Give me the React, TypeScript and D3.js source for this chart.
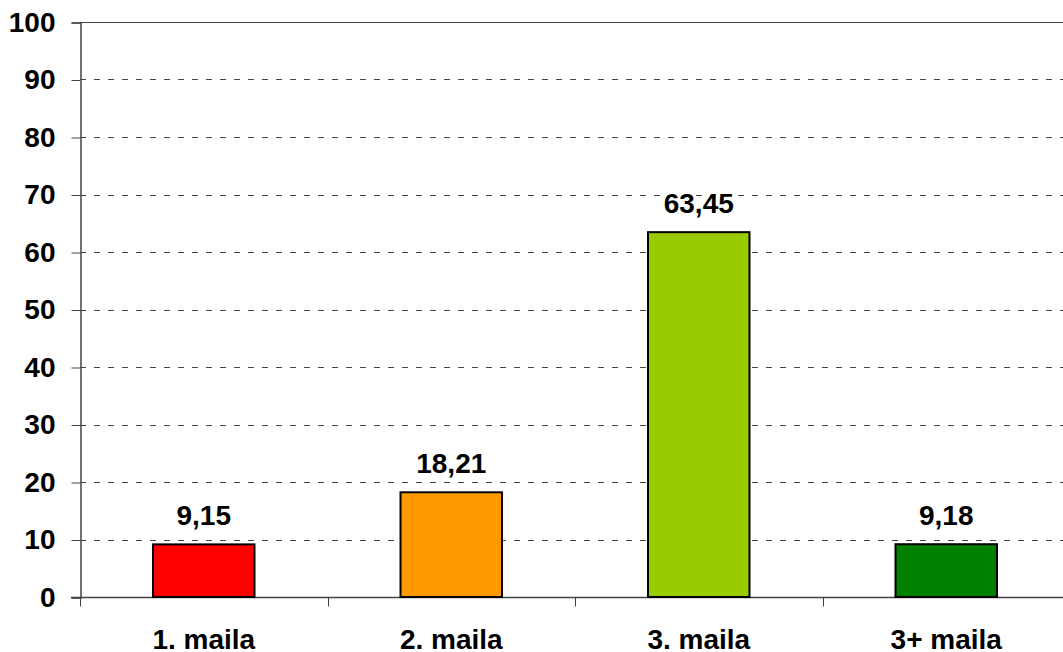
import React from 'react'
import * as d3 from "d3";

const categories = ['1. maila', '2. maila', '3. maila', '3+ maila'];
const values = [9.15, 18.21, 63.45, 9.18];
const valueLabels = ['9,15', '18,21', '63,45', '9,18'];
const barColors = ['#FF0000', '#FF9900', '#99CC00', '#008000'];
const yTicks = [0, 10, 20, 30, 40, 50, 60, 70, 80, 90, 100];

const App = () => {
  const chartRef = React.useRef<SVGSVGElement | null>(null);

  React.useEffect(() => {
    const width = 1063;
    const height = 652;
    const margin = { top: 22, right: -7, bottom: 55, left: 80 };
    const font = 'Liberation Sans, Arial, sans-serif';
    const fontSize = 28;

    const x = d3
      .scaleBand()
      .domain(categories)
      .range([margin.left, width - margin.right])
      .paddingInner(0.59)
      .paddingOuter(0.295);

    const band = d3
      .scaleBand()
      .domain(categories)
      .range([margin.left, width - margin.right]);

    const y = d3
      .scaleLinear()
      .domain([0, 100])
      .range([height - margin.bottom, margin.top]);

    const svg = d3.select(chartRef.current);
    svg.selectAll('*').remove();

    // rejilla
    svg
      .append('g')
      .selectAll('line')
      .data(yTicks.filter((t) => t > 0))
      .enter()
      .append('line')
      .attr('x1', margin.left)
      .attr('x2', width)
      .attr('y1', (d) => Math.round(y(d)) + 0.5)
      .attr('y2', (d) => Math.round(y(d)) + 0.5)
      .attr('stroke', '#444')
      .attr('stroke-width', 1)
      .attr('stroke-dasharray', (d) => (d === 100 ? null : '6,8'));

    // eje Y
    const yAxis = svg
      .append('g')
      .attr('transform', `translate(${margin.left + 0.5},0.5)`)
      .call(d3.axisLeft(y).tickValues(yTicks).tickSize(9).tickPadding(16));
    yAxis.selectAll('line').attr('stroke', '#444');
    yAxis.select('.domain').attr('stroke', '#444').attr('stroke-width', 1.5);
    yAxis
      .selectAll('text')
      .attr('font-family', font)
      .attr('font-size', fontSize)
      .attr('font-weight', 'bold')
      .attr('fill', '#000');

    // eje X
    const baseY = Math.round(y(0)) + 0.5;
    svg
      .append('line')
      .attr('x1', margin.left - 9)
      .attr('x2', width)
      .attr('y1', baseY)
      .attr('y2', baseY)
      .attr('stroke', '#444')
      .attr('stroke-width', 1.5);

    svg
      .append('g')
      .selectAll('line')
      .data(categories)
      .enter()
      .append('line')
      .attr('x1', (d) => Math.round(band(d) || 0) + 0.5)
      .attr('x2', (d) => Math.round(band(d) || 0) + 0.5)
      .attr('y1', baseY)
      .attr('y2', baseY + 9)
      .attr('stroke', '#444');

    svg
      .append('g')
      .selectAll('text')
      .data(categories)
      .enter()
      .append('text')
      .attr('x', (d) => (band(d) || 0) + band.bandwidth() / 2)
      .attr('y', height - 3)
      .attr('text-anchor', 'middle')
      .attr('font-family', font)
      .attr('font-size', fontSize)
      .attr('font-weight', 'bold')
      .text((d) => d);

    // barras
    svg
      .append('g')
      .selectAll('rect')
      .data(values)
      .enter()
      .append('rect')
      .attr('x', (d, i) => x(categories[i]) || 0)
      .attr('y', (d) => y(d))
      .attr('width', x.bandwidth())
      .attr('height', (d) => y(0) - y(d))
      .attr('fill', (d, i) => barColors[i])
      .attr('stroke', '#000')
      .attr('stroke-width', 2);

    // etiquetas de valor
    svg
      .append('g')
      .selectAll('text')
      .data(values)
      .enter()
      .append('text')
      .attr('x', (d, i) => (x(categories[i]) || 0) + x.bandwidth() / 2)
      .attr('y', (d) => y(d) - 19)
      .attr('text-anchor', 'middle')
      .attr('font-family', font)
      .attr('font-size', fontSize)
      .attr('font-weight', 'bold')
      .text((d, i) => valueLabels[i]);
  }, []);

  return (
    <svg
      ref={chartRef}
      width={1063}
      height={652}
      style={{ position: 'absolute', left: 0, top: 0, background: '#fff' }}
    ></svg>
  );
};

export default App
